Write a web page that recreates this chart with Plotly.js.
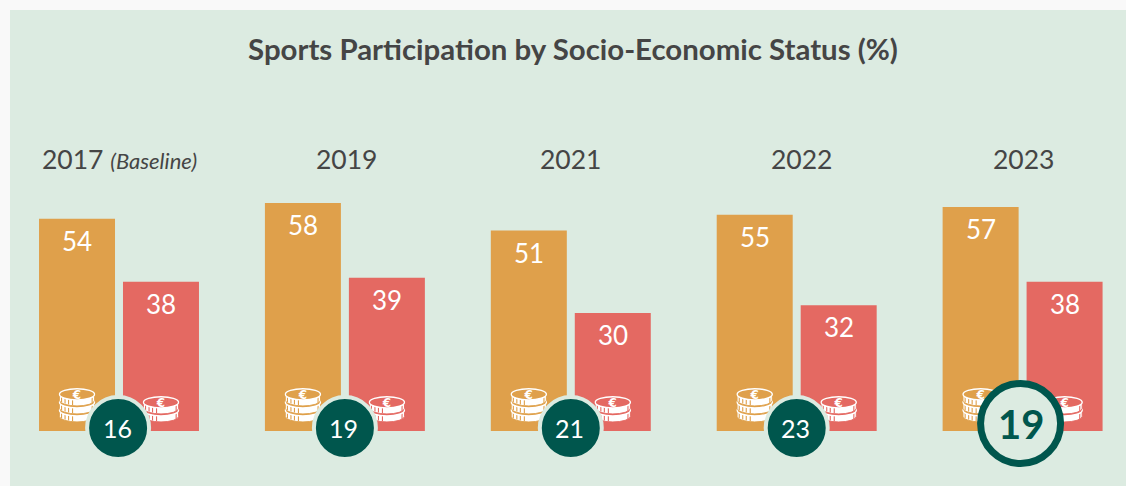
<!DOCTYPE html>
<html><head><meta charset="utf-8">
<script src="https://cdn.plot.ly/plotly-3.0.1.min.js"></script>
<style>html,body{margin:0;padding:0;background:#f9f9f9}#c{width:1126px;height:486px}</style>
</head><body><div id="c"></div>
<script>
const years = ['2017','2019','2021','2022','2023'];
const yearLabels = ['2017 <span style="font-size:22px"><i>(Baseline)</i></span>','2019','2021','2022','2023'];
const yearShift = [0,2,0,5,1];
const higher = [54,58,51,55,57];
const lower = [38,39,30,32,38];
const gaps = [16,19,21,23,19];
const titleText = '<b>Sports Participation by Socio-Economic Status (%)</b>';
const colHigh = '#DFA04B', colLow = '#E46962', teal = '#00564D', panel = '#DCEBE1', ink = '#454545';
const font = 'Lato, sans-serif';

const PX_X = 225.9, PX_Y = 3.93;
function coinSvg(n){
  const w = 37, t = 6, step = 8, rx = 17.6, ry = 5.6, top = 0.7;
  const h = top*2 + ry*2 + (n-1)*step + t;
  let s = '';
  for(let i=n-1;i>=0;i--){
    const cy = top + ry + i*step;
    s += `<path d="M${w/2-rx} ${cy} v${t} a${rx} ${ry} 0 0 0 ${rx*2} 0 v-${t} z" fill="#fff" stroke="COL" stroke-width="0.9"/>`;
    [[-16,2.4],[-12.5,3.8],[-9,4.6],[-5,5.2],[14.6,3.2]].forEach(p=>{
      s += `<rect x="${w/2+p[0]}" y="${cy+p[1]}" width="1.1" height="${t-0.5}" fill="COL"/>`;
    });
    s += `<ellipse cx="${w/2}" cy="${cy}" rx="${rx}" ry="${ry}" fill="COL" stroke="#fff" stroke-width="1.4"/>`;
  }
  s += `<text x="${w/2}" y="${top+ry+4.3}" font-family="DejaVu Sans" font-weight="bold" font-size="12" text-anchor="middle" fill="#fff">€</text>`;
  return {s, w, h};
}
function coinImage(n,col){
  const c = coinSvg(n);
  const svg = `<svg xmlns="http://www.w3.org/2000/svg" width="${c.w*3}" height="${c.h*3}" viewBox="0 0 ${c.w} ${c.h}">${c.s.replace(/COL/g,col)}</svg>`;
  return {url:'data:image/svg+xml;base64,' + btoa(unescape(encodeURIComponent(svg))), sx:c.w/PX_X, sy:c.h/PX_Y};
}

const GROUP = 42/PX_X; // half-distance between paired bars, in category units
const images = [], shapes = [], annotations = [];
const c3 = coinImage(3,colHigh), c2 = coinImage(2,colLow);
years.forEach((y,i)=>{
  images.push({source:c3.url,xref:'x',yref:'y',x:i-GROUP,y:10.94,sizex:c3.sx,sizey:c3.sy,sizing:'stretch',xanchor:'center',yanchor:'top',layer:'above'});
  images.push({source:c2.url,xref:'x',yref:'y',x:i+GROUP,y:8.9,sizex:c2.sx,sizey:c2.sy,sizing:'stretch',xanchor:'center',yanchor:'top',layer:'above'});
  const big = i===4;
  const r = big ? 40 : 31;
  const cy = big ? 1.9 : 0.76;
  const cx = big ? i-0.009 : (i===0 ? i-0.004 : i);
  shapes.push({type:'circle',xref:'x',yref:'y',xsizemode:'pixel',ysizemode:'pixel',xanchor:cx,yanchor:cy,
    x0:-r,x1:r,y0:-r,y1:r,
    fillcolor:big?panel:teal,line:{color:big?teal:panel,width:big?7:4},layer:'above'});
  annotations.push({x:cx,y:cy,xref:'x',yref:'y',xshift:big?0:-1,text:big?'<b>'+gaps[i]+'</b>':String(gaps[i]),showarrow:false,
    font:{family:font,size:big?40:25,color:big?teal:'#fff'},xanchor:'center',yanchor:'middle'});
  annotations.push({x:i,xref:'x',xshift:yearShift[i],y:1-(159-10)/476,yref:'paper',text:yearLabels[i],showarrow:false,
    font:{family:font,size:26.5,color:ink},xanchor:'center',yanchor:'middle'});
  annotations.push({x:i-GROUP,xref:'x',y:higher[i],yref:'y',text:String(higher[i]),showarrow:false,yshift:-22,
    font:{family:font,size:26,color:'#fff'},xanchor:'center',yanchor:'middle'});
  annotations.push({x:i+GROUP,xref:'x',y:lower[i],yref:'y',text:String(lower[i]),showarrow:false,yshift:-22,
    font:{family:font,size:26,color:'#fff'},xanchor:'center',yanchor:'middle'});
});

const data = [
  {type:'bar',name:'Higher',x:years,y:higher,marker:{color:colHigh},hoverinfo:'skip'},
  {type:'bar',name:'Lower',x:years,y:lower,marker:{color:colLow},hoverinfo:'skip'}
];
const layout = {
  width:1126,height:486,
  paper_bgcolor:'#f9f9f9',plot_bgcolor:panel,
  margin:{l:10,r:0,t:10,b:0},
  barmode:'group',bargap:0.2566,bargroupgap:0.095,
  showlegend:false,
  title:{text:titleText,font:{family:font,size:29.4,color:ink},xref:'container',yref:'container',x:573/1126,y:1-50/486,xanchor:'center',yanchor:'middle'},
  xaxis:{type:'category',categoryorder:'array',categoryarray:years,range:[-109/PX_X,(1116-109)/PX_X],showticklabels:false,showgrid:false,zeroline:false,ticks:'',fixedrange:true},
  yaxis:{range:[-55/PX_Y,421/PX_Y],showticklabels:false,showgrid:false,zeroline:false,ticks:'',fixedrange:true},
  images,shapes,annotations
};
Plotly.newPlot('c',data,layout,{displayModeBar:false,staticPlot:true});
</script></body></html>
